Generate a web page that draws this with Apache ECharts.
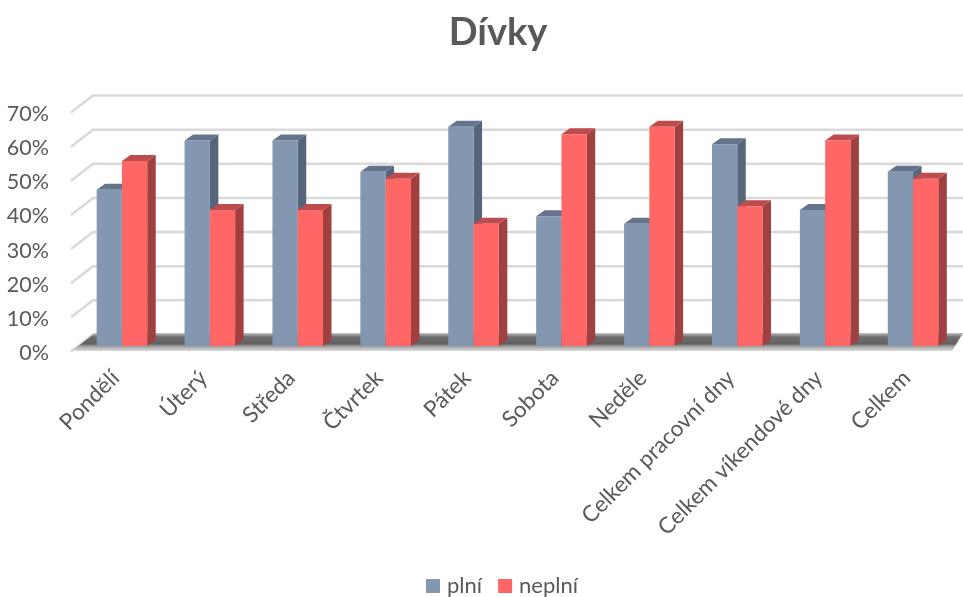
<!DOCTYPE html>
<html>
<head>
<meta charset="utf-8">
<style>html,body{margin:0;padding:0;background:#fff}#chart{width:963px;height:597px}</style>
<script src="https://cdn.jsdelivr.net/npm/echarts@6/dist/echarts.min.js"></script>
</head>
<body>
<div id="chart"></div>
<script>
const categories = ['Pondělí', 'Úterý', 'Středa', 'Čtvrtek', 'Pátek', 'Sobota', 'Neděle', 'Celkem pracovní dny', 'Celkem víkendové dny', 'Celkem'];
const plni = [45.8, 60.2, 60.2, 51, 64.2, 38, 35.8, 59.1, 39.8, 51];
const neplni = [54.2, 39.8, 39.8, 49, 35.8, 62, 64.2, 40.9, 60.2, 49];
const ticks = [0, 10, 20, 30, 40, 50, 60, 70];

const FONT = 'Lato, "Open Sans", sans-serif';
const TEXT = '#595959';
const DEPTH_X = 8.5, DEPTH_Y = 6;
const BAR_RATIO = 0.2875;

// Pseudo-3D column: front face, side face and top face.
function columnRenderer(side, front, sideColor, topColor) {
  return function (params, api) {
    const base = api.coord([api.value(0), 0]);
    const top = api.coord([api.value(0), api.value(1)]);
    const w = api.size([1, 0])[0] * BAR_RATIO;
    const x0 = base[0] + (side < 0 ? -w : 0);
    const x1 = x0 + w;
    const poly = (points, fill) => ({ type: 'polygon', shape: { points }, style: { fill } });
    return {
      type: 'group',
      children: [
        poly([[x1, top[1]], [x1 + DEPTH_X, top[1] - DEPTH_Y], [x1 + DEPTH_X, base[1] - DEPTH_Y], [x1, base[1]]], sideColor),
        poly([[x0, top[1]], [x0 + DEPTH_X, top[1] - DEPTH_Y], [x1 + DEPTH_X, top[1] - DEPTH_Y], [x1, top[1]]], topColor),
        { type: 'rect', shape: { x: x0, y: top[1], width: w, height: base[1] - top[1] }, style: { fill: front } }
      ]
    };
  };
}

// Gridline running along the side wall and then across the back wall.
function wallRenderer(params, api) {
  const p = api.coord([0, api.value(0)]);
  const left = api.coord([0, 0])[0] - api.size([1, 0])[0] / 2;
  const frontX = left - 7, backX = left + 15;
  return {
    type: 'polyline',
    shape: { points: [[frontX, p[1] + 5.5], [backX, p[1] - 11.5], [963, p[1] - 11.5]] },
    style: { fill: 'none', stroke: '#d9d9d9', lineWidth: 2.5 }
  };
}

// Floor of the plot, shaded from the back edge towards the front lip.
function floorRenderer(params, api) {
  const p = api.coord([0, 0]);
  const left = p[0] - api.size([1, 0])[0] / 2;
  const shade = new echarts.graphic.LinearGradient(0, 0, 0, 1, [
    { offset: 0, color: '#c4c4c4' },
    { offset: 0.22, color: '#6e6e6e' },
    { offset: 0.6, color: '#616161' },
    { offset: 0.76, color: '#a6a6a6' },
    { offset: 1, color: '#dcdcdc' }
  ]);
  return {
    type: 'polygon',
    shape: { points: [[left - 6, p[1] + 5], [left + 17, p[1] - 13], [963, p[1] - 13], [952, p[1] + 5]] },
    style: { fill: shade }
  };
}

const chart = echarts.init(document.getElementById('chart'), null, { renderer: 'canvas' });
chart.setOption({
  animation: false,
  backgroundColor: '#ffffff',
  title: {
    text: 'Dívky', left: 493, top: 9, textAlign: 'center',
    textStyle: { fontFamily: FONT, fontSize: 38, fontWeight: 'bold', color: TEXT }
  },
  legend: {
    data: ['plní', 'neplní'], left: 421, top: 570, icon: 'rect',
    itemWidth: 14, itemHeight: 14, itemGap: 16,
    textStyle: { fontFamily: FONT, fontSize: 22, color: TEXT, padding: [0, 0, 0, 2] }
  },
  grid: { left: 78, top: 107, width: 879, height: 239, containLabel: false },
  xAxis: {
    type: 'category', data: categories,
    axisLine: { show: false }, axisTick: { show: false },
    axisLabel: { rotate: 45, interval: 0, margin: 22, padding: [0, 9, 0, 0], fontFamily: FONT, fontSize: 22.5, color: TEXT }
  },
  yAxis: {
    type: 'value', min: 0, max: 70, interval: 10,
    axisLine: { show: false }, axisTick: { show: false }, splitLine: { show: false },
    axisLabel: { formatter: '{value}%', margin: 29, verticalAlign: 'top', lineHeight: 14, fontFamily: FONT, fontSize: 21.5, color: TEXT }
  },
  series: [
    { type: 'custom', name: 'walls', silent: true, data: ticks.map(t => [t]), encode: { y: 0 }, renderItem: wallRenderer, z: 1, clip: false },
    { type: 'custom', name: 'floor', silent: true, data: [[0]], encode: { y: 0 }, renderItem: floorRenderer, z: 2, clip: false },
    { type: 'custom', name: 'plní', data: plni.map((v, i) => [i, v]), encode: { x: 0, y: 1 }, itemStyle: { color: '#8497B0' },
      renderItem: columnRenderer(-1, '#8497B0', '#56657A', '#64748C'), z: 3, clip: false },
    { type: 'custom', name: 'neplní', data: neplni.map((v, i) => [i, v]), encode: { x: 0, y: 1 }, itemStyle: { color: '#FF6666' },
      renderItem: columnRenderer(1, '#FF6666', '#A04040', '#BC4C4E'), z: 4, clip: false }
  ]
});
</script>
</body>
</html>
